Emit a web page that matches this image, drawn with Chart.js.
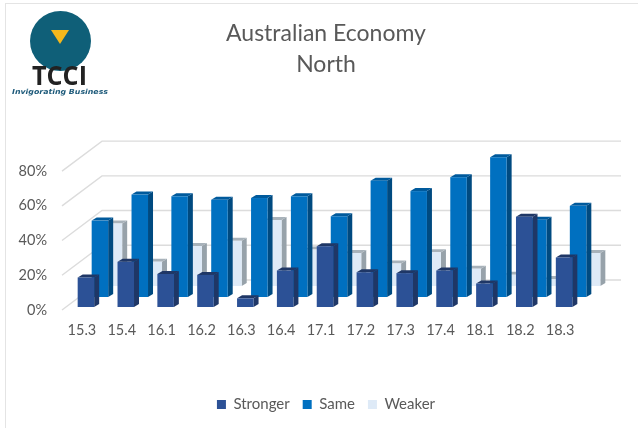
<!DOCTYPE html>
<html>
<head>
<meta charset="utf-8">
<style>
  html, body { margin: 0; padding: 0; background: #fff; }
  #wrap { position: relative; width: 638px; height: 428px; overflow: hidden; }
  #frame { position: absolute; left: 5px; top: 3px; width: 700px; height: 500px; border: 1px solid #e4e4e4; box-sizing: border-box; }
  #logo { position: absolute; left: 0; top: 0; }
  canvas { position: absolute; left: 0; top: 0; }
</style>
<script src="https://cdn.jsdelivr.net/npm/chart.js@4"></script>
</head>
<body>
<div id="wrap">
  <div id="frame"></div>
  <canvas id="grafico" width="638" height="428"></canvas>
  <svg id="logo" width="130" height="100">
    <ellipse cx="60.5" cy="41" rx="30.5" ry="30" fill="#0f5f78"/>
    <polygon points="51,30 69,30 60,44" fill="#f5b81c"/>
    <text x="32" y="85" font-family="'Open Sans'" font-weight="700" font-size="26" textLength="55" lengthAdjust="spacingAndGlyphs" fill="#222">TCCI</text>
    <text x="12" y="94" font-family="'DejaVu Sans'" font-weight="bold" font-style="italic" font-size="7" textLength="96" lengthAdjust="spacingAndGlyphs" fill="#1d5a7a">Invigorating Business</text>
  </svg>
</div>
<script>
const categorie = ['15.3','15.4','16.1','16.2','16.3','16.4','17.1','17.2','17.3','17.4','18.1','18.2','18.3'];
const stronger = [17, 26, 19, 18.5, 5, 21, 35, 20, 19.5, 21, 13.5, 52, 28.5];
const same = [44, 59, 58, 56, 57, 58, 46.5, 67, 61, 69, 80.5, 44.5, 52.5];
const weaker = [36, 14, 23, 26, 38, 21, 19, 13, 19.5, 10, 6.5, 4, 19];

const grigio = '#595959';
const font = 'Lato';

// Finto 3D: ogni serie ha il suo spostamento in profondita'
const bar3d = {
  id: 'bar3d',
  // griglia obliqua: parete di fondo + raccordo verso le etichette
  beforeDatasetsDraw(chart) {
    const ctx = chart.ctx, y = chart.scales.y, a = chart.chartArea;
    ctx.save();
    ctx.strokeStyle = '#dcdcdc';
    ctx.lineWidth = 1.4;
    y.ticks.forEach(t => {
      const py = y.getPixelForValue(t.value);
      ctx.beginPath();
      ctx.moveTo(a.left, py);
      ctx.lineTo(a.left + 40, py - 30);
      ctx.lineTo(a.right + 41, py - 30);
      ctx.stroke();
    });
    ctx.restore();
  },
  beforeDatasetDraw(chart, args) {
    const ctx = chart.ctx;
    const ds = chart.data.datasets[args.index];
    const [dx, dy] = ds.offset3d;
    const sx = 5, sy = 3;
    args.meta.data.forEach(bar => {
      const w = bar.width;
      const l = bar.x + dx - w / 2, r = l + w;
      const top = bar.y - dy, base = bar.base - dy;
      // fianco
      ctx.fillStyle = ds.sideColor;
      ctx.beginPath();
      ctx.moveTo(r, top); ctx.lineTo(r + sx, top - sy); ctx.lineTo(r + sx, base - sy); ctx.lineTo(r, base);
      ctx.closePath(); ctx.fill();
      // tappo
      ctx.fillStyle = ds.topColor;
      ctx.beginPath();
      ctx.moveTo(l, top); ctx.lineTo(l + sx, top - sy); ctx.lineTo(r + sx, top - sy); ctx.lineTo(r, top);
      ctx.closePath(); ctx.fill();
      // faccia
      ctx.fillStyle = ds.backgroundColor;
      ctx.fillRect(l, top, w, base - top);
    });
    return false;
  }
};

new Chart(document.getElementById('grafico'), {
  type: 'bar',
  plugins: [bar3d],
  data: {
    labels: categorie,
    datasets: [
      { label: 'Stronger', data: stronger, backgroundColor: '#2c5196', sideColor: '#1f3766', topColor: '#1f3766', offset3d: [4, 3] },
      { label: 'Same', data: same, backgroundColor: '#0070c0', sideColor: '#004a80', topColor: '#005a9c', offset3d: [18, 13] },
      { label: 'Weaker', data: weaker, backgroundColor: '#deeaf7', sideColor: '#97a2aa', topColor: '#a8b2ba', offset3d: [32, 24] }
    ]
  },
  options: {
    responsive: false,
    animation: false,
    layout: { padding: { left: 14, right: 0, top: 18, bottom: 6 } },
    datasets: { bar: { grouped: false, barThickness: 16.5 } },
    plugins: {
      tooltip: { enabled: false },
      title: {
        display: true,
        text: ['Australian Economy', 'North'],
        color: grigio,
        font: { family: font, size: 23, weight: 'normal', lineHeight: 1.35 },
        padding: { top: 0, bottom: 91 }
      },
      legend: {
        position: 'bottom',
        labels: { boxWidth: 9, boxHeight: 9, padding: 13, color: grigio, font: { family: font, size: 15 } }
      }
    },
    scales: {
      x: {
        grid: { display: false, drawTicks: false },
        border: { display: false },
        afterFit: s => { s.height = 74; },
        ticks: { color: grigio, font: { family: font, size: 14.5 }, padding: 12, maxRotation: 0 }
      },
      y: {
        min: 0,
        max: 80,
        grid: { display: false, drawTicks: false },
        border: { display: false },
        afterFit: s => { s.width = 48; },
        ticks: { stepSize: 20, color: grigio, font: { family: font, size: 14.5 }, padding: 15, callback: v => v + '%' }
      },
      // solo spazio a destra, serve a tenere il titolo centrato come nell'originale
      spazio: {
        position: 'right',
        grid: { display: false },
        border: { display: false },
        ticks: { display: false },
        afterFit: s => { s.width = 58; }
      }
    }
  }
});
</script>
</body>
</html>
